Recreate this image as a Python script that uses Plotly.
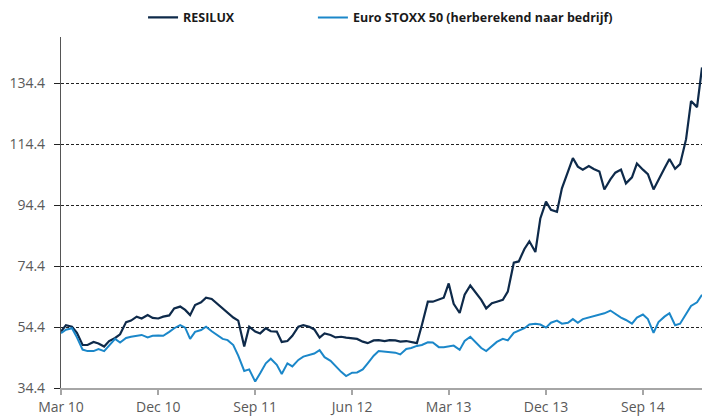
import pandas as pd
import plotly.graph_objects as go

# semi-monthly observation dates (1st and 15th), Mar 2010 - Feb 2015
dates = pd.date_range("2010-03-01", periods=120, freq="SMS")

resilux = [
    52.9, 55.0, 54.5, 52.5, 48.5, 48.5, 49.5, 49.0, 48.0, 49.8,
    50.8, 52.0, 56.0, 56.5, 57.8, 57.2, 58.3, 57.4, 57.2, 57.8,
    58.2, 60.5, 61.1, 60.0, 58.3, 61.6, 62.5, 64.0, 63.6, 62.2,
    60.5, 59.4, 57.5, 56.5, 48.0, 54.5, 52.9, 52.3, 54.0, 53.0,
    52.9, 49.5, 49.8, 51.5, 54.5, 55.0, 54.5, 53.6, 50.9, 52.3,
    51.8, 51.0, 51.2, 50.9, 50.7, 50.5, 49.6, 49.1, 50.0, 50.1,
    49.8, 50.1, 50.0, 49.6, 49.8, 49.4, 49.1, 55.0, 62.7, 62.7,
    63.3, 64.0, 68.7, 62.0, 59.0, 65.0, 68.0, 65.8, 63.3, 60.5,
    62.2, 62.7, 63.3, 66.0, 75.5, 75.9, 80.0, 82.5, 79.0, 90.0,
    95.5, 92.8, 92.2, 99.9, 105.0, 109.8, 107.0, 106.0, 107.2, 106.2,
    105.4, 99.5, 102.8, 105.0, 106.0, 101.5, 103.5, 108.0, 106.0, 104.5,
    99.5, 102.8, 106.5, 109.5, 106.3, 107.8, 116.0, 128.5, 126.5, 139.5,
]

stoxx = [
    52.4, 53.5, 54.0, 51.0, 47.0, 46.5, 46.5, 47.2, 46.5, 48.3,
    50.5, 49.3, 50.8, 51.2, 51.5, 51.8, 51.0, 51.5, 51.6, 51.5,
    52.8, 54.0, 55.0, 54.2, 50.5, 52.8, 53.4, 54.5, 53.0, 51.8,
    50.5, 50.1, 48.5, 45.0, 40.0, 40.5, 36.5, 39.2, 42.5, 44.0,
    42.0, 39.0, 42.5, 41.5, 43.6, 44.7, 45.2, 45.7, 46.8, 44.5,
    43.3, 41.5, 39.7, 38.3, 39.4, 39.5, 40.5, 42.5, 45.0, 46.5,
    46.3, 46.2, 46.0, 45.4, 47.2, 47.5, 48.2, 48.5, 49.4, 49.3,
    47.8, 47.8, 48.0, 48.3, 46.9, 49.8, 51.2, 49.6, 47.5, 46.5,
    48.0, 49.5, 50.5, 50.0, 52.5, 53.2, 54.0, 55.2, 55.5, 55.2,
    54.2, 55.8, 56.5, 55.5, 55.8, 57.0, 55.8, 57.0, 57.6, 58.0,
    58.5, 58.9, 59.8, 58.6, 57.5, 56.7, 55.5, 57.5, 58.5, 57.0,
    52.5, 56.0, 57.8, 58.9, 55.0, 55.5, 58.5, 61.3, 62.5, 65.0,
]

tick_dates = ["2010-03-01", "2010-12-01", "2011-09-01", "2012-06-01",
              "2013-03-01", "2013-12-01", "2014-09-01"]
tick_labels = ["Mar 10", "Dec 10", "Sep 11", "Jun 12", "Mar 13", "Dec 13", "Sep 14"]
y_ticks = [34.4, 54.4, 74.4, 94.4, 114.4, 134.4]

legend_font = dict(family="Open Sans, sans-serif", size=12.5, color="#1a1a1a", weight="bold")

fig = go.Figure()
fig.add_trace(go.Scatter(x=dates, y=resilux, mode="lines", name="RESILUX",
                         line=dict(color="#0E2A4A", width=2.2), legend="legend"))
fig.add_trace(go.Scatter(x=dates, y=stoxx, mode="lines",
                         name="Euro STOXX 50 (herberekend naar bedrijf)",
                         line=dict(color="#1B87C9", width=2), legend="legend2"))

fig.update_layout(
    width=702, height=418,
    margin=dict(l=61, r=0, t=37, b=30),
    paper_bgcolor="white", plot_bgcolor="white",
    font=dict(family="Open Sans, Liberation Sans, sans-serif", size=14, color="#595959"),
    showlegend=True,
    legend=dict(orientation="h", x=0.128, y=1.012, xanchor="left", yanchor="bottom",
                itemwidth=30, font=legend_font, bgcolor="rgba(0,0,0,0)"),
    legend2=dict(orientation="h", x=0.393, y=1.012, xanchor="left", yanchor="bottom",
                 itemwidth=30, font=legend_font, bgcolor="rgba(0,0,0,0)"),
    xaxis=dict(type="date", range=["2010-03-01", "2015-02-15"],
               tickvals=tick_dates, ticktext=tick_labels,
               showgrid=False, showline=True, linecolor="#a6a6a6", linewidth=2,
               ticks="outside", ticklen=5, tickcolor="#a6a6a6", tickwidth=1.5,
               tickfont=dict(size=14, color="#595959"), zeroline=False),
    yaxis=dict(range=[34.4, 149.5], tickvals=y_ticks,
               ticktext=[f"{v:.1f}" for v in y_ticks],
               showgrid=True, gridcolor="#222222", griddash="3px,2px", gridwidth=0.8,
               showline=True, linecolor="#555555", linewidth=1.2,
               ticks="outside", ticklen=6, tickcolor="#222222", tickwidth=0.8,
               ticklabelstandoff=6,
               tickfont=dict(size=14, color="#595959"), zeroline=False),
)

fig.write_html("out.html", config={"displayModeBar": False})

# remove the browser's default page margin so the figure sits at (0, 0)
with open("out.html", encoding="utf-8") as f:
    html = f.read()
html = html.replace("<head>", "<head><style>html,body{margin:0;padding:0;overflow:hidden;}</style>", 1)
with open("out.html", "w", encoding="utf-8") as f:
    f.write(html)
